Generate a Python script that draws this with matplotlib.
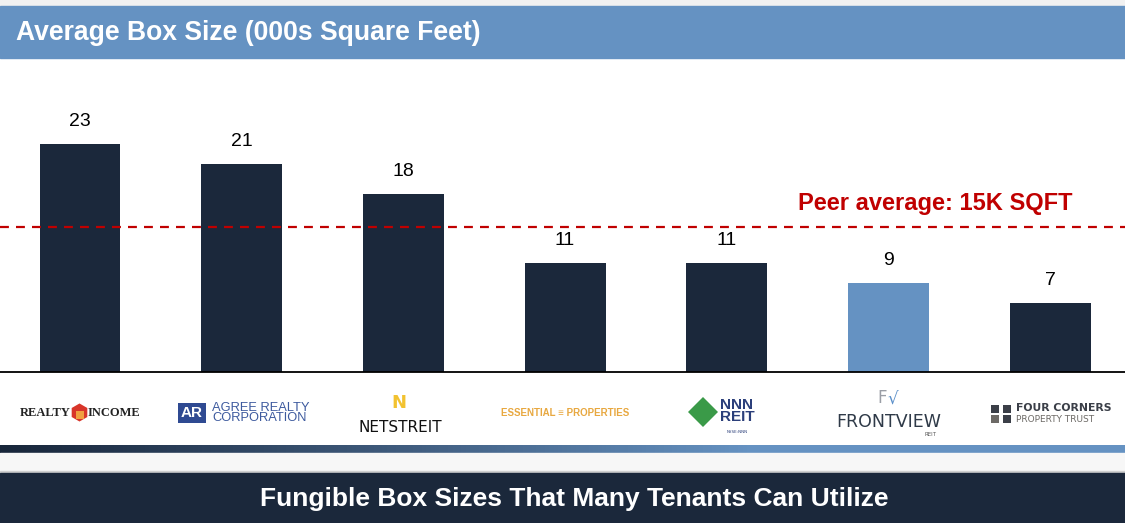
import numpy as np
import matplotlib.pyplot as plt
from matplotlib.patches import Rectangle
from matplotlib.lines import Line2D
from matplotlib.colors import LinearSegmentedColormap
import matplotlib.transforms as mtransforms

# data
companies = ["Realty Income", "Agree Realty", "NETSTREIT", "Essential Properties",
             "NNN REIT", "FrontView REIT", "Four Corners"]
box_size = [23, 21, 18, 11, 11, 9, 7]
peer_avg = 14.6
peer_label = "Peer average: 15K SQFT"
title = "Average Box Size (000s Square Feet)"
footer = "Fungible Box Sizes That Many Tenants Can Utilize"

navy = "#1b283b"
blue = "#6592c2"
red = "#c00000"

W, H = 1125, 523
fig = plt.figure(figsize=(W / 100, H / 100), dpi=100)
fig.patch.set_facecolor("white")

def fy(px):  # pixel row -> figure fraction
    return 1 - px / H

def band(y0, y1, color, x0=0, x1=W):
    fig.patches.append(Rectangle((x0 / W, fy(y1)), (x1 - x0) / W, (y1 - y0) / H,
                                 transform=fig.transFigure, color=color, zorder=0))

# page furniture
band(0, 6, "#f1f1f1")
band(6, 58, blue)
fig.text(16 / W, fy(33), title, color="white", fontsize=19.1, fontweight="bold",
         family="Liberation Sans", va="center", ha="left")
band(453, 471, "#f7f7f7")
band(471, 472.5, "#cfcfcf")
band(472.5, 523, navy)
fig.text(574 / W, fy(499), footer, color="white", fontsize=19, fontweight="bold",
         family=["Liberation Sans Narrow", "Liberation Sans"], va="center", ha="center")

# gradient strip under the logos
gax = fig.add_axes([0, fy(453), 1, 8 / H])
cmap = LinearSegmentedColormap.from_list("g", ["#18263a", "#3d5879", "#6592c2", "#6592c2"])
gax.imshow(np.linspace(0, 1, 256)[None, :], aspect="auto", cmap=cmap)
gax.axis("off")

# main bar chart
ax = fig.add_axes([0, fy(372), 1, (372 - 58) / H])
x = np.arange(len(companies))
colors = [navy] * len(companies)
colors[companies.index("FrontView REIT")] = blue
ax.bar(x, box_size, width=0.5, color=colors, zorder=2)
for xi, v in zip(x, box_size):
    ax.text(xi, v + 1.4, f"{v}", ha="center", va="bottom", fontsize=14,
            family="Liberation Sans", color="black")
ax.axhline(peer_avg, color=red, lw=1.6, ls=(0, (4, 3.2)), zorder=3)
ax.text(x[-1] + 0.14, peer_avg + 1.3, peer_label, ha="right", va="bottom",
        color=red, fontsize=17, fontweight="bold", family="Liberation Sans")
ax.set_xlim(-0.495, 6.463)
ax.set_ylim(0, 31.7)
for s in ["top", "right", "left"]:
    ax.spines[s].set_visible(False)
ax.spines["bottom"].set_linewidth(1.3)
ax.set_xticks([])
ax.set_yticks([])
ax.patch.set_alpha(0)

# company logos, drawn as text and simple marks
tr = mtransforms.blended_transform_factory(ax.transData, fig.transFigure)

def mark(xd, py, marker, size, color):
    fig.add_artist(Line2D([xd], [fy(py)], marker=marker, markersize=size, color=color,
                          markeredgewidth=0, transform=tr))

ly = fy(413)
ax.text(-0.216, ly, "REALTY", transform=tr, ha="center", va="center", fontsize=9,
        fontweight="bold", family="Liberation Serif", color="#222222")
mark(-0.006, 412, "h", 13, "#d8352a")
mark(0.0, 415, "s", 6, "#f0a040")
ax.text(0.21, ly, "INCOME", transform=tr, ha="center", va="center", fontsize=9,
        fontweight="bold", family="Liberation Serif", color="#222222")

ax.text(0.693, ly, "AR", transform=tr, ha="center", va="center", fontsize=11,
        fontweight="bold", color="white", family="Liberation Sans",
        bbox=dict(boxstyle="square,pad=0.2", fc="#2f4a92", ec="none"))
ax.text(0.818, ly, "AGREE REALTY\nCORPORATION", transform=tr, ha="left", va="center",
        fontsize=9.3, linespacing=0.85, color="#3d5a9e", family="Liberation Sans")

ax.text(1.973, fy(403), "N", transform=tr, ha="center", va="center", fontsize=13,
        fontweight="bold", color="#f2c230", family="DejaVu Sans")
ax.text(1.98, fy(427), "NETSTREIT", transform=tr, ha="center", va="center", fontsize=11,
        color="#111111", family="DejaVu Sans")

ax.text(3.0, ly, "ESSENTIAL \u2261 PROPERTIES", transform=tr, ha="center", va="center",
        fontsize=7, fontweight="bold", color="#e8a840",
        family=["Liberation Sans Narrow", "Liberation Sans"])

mark(3.853, 412, "D", 15, "#3a9a48")
ax.text(4.063, fy(411), "NNN\nREIT", transform=tr, ha="center", va="center", fontsize=11,
        fontweight="bold", linespacing=0.8, color="#2b3f7a",
        family=["Liberation Sans Narrow", "Liberation Sans"])
ax.text(4.063, fy(432), "NYSE:NNN", transform=tr, ha="center", va="center", fontsize=3,
        color="#2b3f7a")

ax.text(4.96, fy(398), "F", transform=tr, ha="center", va="center", fontsize=12,
        color="#9a9ea6", family="DejaVu Sans")
ax.text(5.03, fy(400), "\u221a", transform=tr, ha="center", va="center", fontsize=12,
        color="#5a8fc9", family="DejaVu Sans")
ax.text(5.0, fy(422), "FRONTVIEW", transform=tr, ha="center", va="center", fontsize=12.5,
        color="#2f3a48", family="DejaVu Sans")
ax.text(5.26, fy(434), "REIT", transform=tr, ha="center", va="center", fontsize=4,
        color="#555555")

for dx, dy, c in [(-0.037, 409, "#3b3f48"), (0.037, 409, "#3b3f48"),
                  (-0.037, 419, "#6d6a66"), (0.037, 419, "#3b3f48")]:
    mark(5.696 + dx, dy, "s", 6.3, c)
ax.text(5.789, fy(408), "FOUR CORNERS", transform=tr, ha="left", va="center", fontsize=7.8,
        fontweight="bold", color="#3b3f48", family="DejaVu Sans")
ax.text(5.789, fy(420), "PROPERTY TRUST", transform=tr, ha="left", va="center", fontsize=6.5,
        color="#6d6a66", family="DejaVu Sans")

fig.savefig("out.png", dpi=100)
